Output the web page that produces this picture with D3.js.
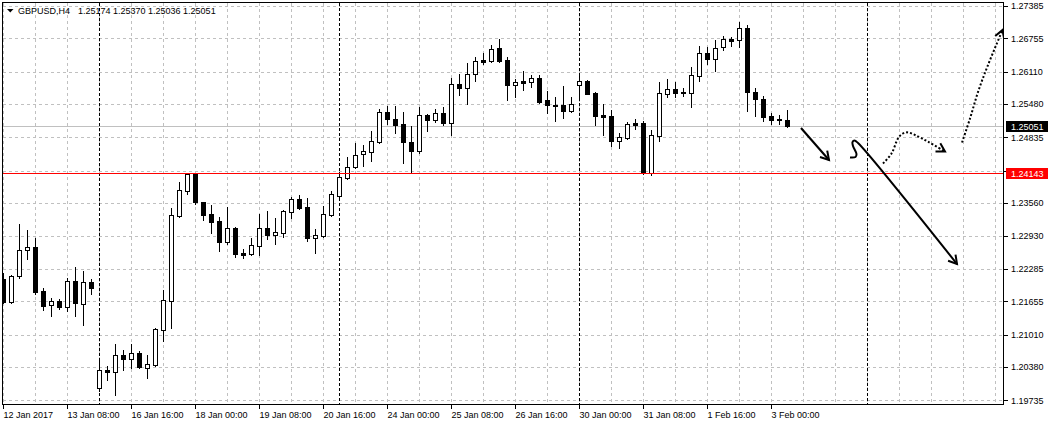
<!DOCTYPE html>
<html lang="en">
<head>
<meta charset="utf-8">
<title>GBPUSD,H4</title>
<style>
  html, body { margin: 0; padding: 0; background: #fff; }
  svg { display: block; }
  svg text { font-family: "Liberation Sans", Arial, sans-serif; font-size: 9px; fill: #000; }
</style>
</head>
<body>
<svg width="1049" height="425"></svg>
<script src="https://cdnjs.cloudflare.com/ajax/libs/d3/7.8.5/d3.min.js"></script>
<script>
// H4 bars, 12 Jan 2017 00:00 .. 3 Feb 2017 16:00
var symbol = "GBPUSD,H4";

var opens = [1.22088,1.21642,1.22147,1.22651,1.22709,1.21856,1.21584,1.21662,1.21545,1.22050,
  1.21603,1.22030,1.19974,1.20323,1.20284,1.20614,1.20536,1.20653,1.20362,1.20420,
  1.21099,1.21662,1.23311,1.23796,1.24125,1.23582,1.23349,1.23214,1.22806,1.23078,
  1.22593,1.22573,1.22729,1.23078,1.22942,1.22981,1.23388,1.23640,1.23485,1.22884,
  1.22923,1.23330,1.23699,1.24048,1.24261,1.24513,1.24552,1.24746,1.25328,1.25192,
  1.25095,1.24746,1.24572,1.25270,1.25173,1.25309,1.25115,1.25871,1.25794,1.26065,
  1.26337,1.26318,1.26570,1.26337,1.25852,1.25930,1.25910,1.25988,1.25561,1.25464,
  1.25464,1.25348,1.25852,1.25930,1.25697,1.25270,1.25251,1.24766,1.24824,1.25115,
  1.25115,1.24145,1.24863,1.25677,1.25774,1.25716,1.25697,1.26027,1.26473,1.26356,
  1.26589,1.26744,1.26725,1.26958,1.25716,1.25580,1.25251,1.25192,1.25174];

var highs = [1.22205,1.22166,1.23155,1.23039,1.22884,1.21914,1.21720,1.21700,1.22108,1.22321,
  1.22244,1.22088,1.20517,1.20401,1.20827,1.20711,1.20827,1.20692,1.20614,1.21138,
  1.21875,1.23466,1.23970,1.24145,1.24145,1.23582,1.23524,1.23291,1.23485,1.23097,
  1.22670,1.22884,1.23349,1.23408,1.23272,1.23427,1.23679,1.23718,1.23660,1.23058,
  1.23505,1.23796,1.24164,1.24455,1.24727,1.24688,1.24960,1.25386,1.25445,1.25445,
  1.25328,1.25057,1.25425,1.25289,1.25386,1.25425,1.25988,1.26065,1.26279,1.26395,
  1.26473,1.26628,1.26744,1.26395,1.25968,1.26124,1.26046,1.26046,1.25736,1.25619,
  1.25833,1.25619,1.26065,1.25949,1.25716,1.25483,1.25367,1.24921,1.25134,1.25192,
  1.25154,1.24979,1.25910,1.25968,1.25910,1.25794,1.26201,1.26609,1.26589,1.26725,
  1.26803,1.26783,1.27074,1.27016,1.25794,1.25639,1.25309,1.25270,1.25370];

var lows = [1.21623,1.21623,1.22108,1.22476,1.21797,1.21487,1.21371,1.21506,1.21468,1.21371,
  1.21196,1.21797,1.19916,1.20129,1.19838,1.20323,1.20362,1.20362,1.20168,1.20401,
  1.20886,1.21138,1.23291,1.23737,1.23543,1.23233,1.22981,1.22632,1.22767,1.22515,
  1.22496,1.22554,1.22554,1.22864,1.22767,1.22903,1.23272,1.23446,1.22826,1.22593,
  1.22903,1.23311,1.23679,1.24028,1.24242,1.24281,1.24378,1.24727,1.25095,1.24921,
  1.24339,1.24164,1.24533,1.24960,1.25134,1.25076,1.24882,1.25658,1.25483,1.25930,
  1.26259,1.26298,1.26298,1.25561,1.25619,1.25755,1.25813,1.25503,1.25309,1.25154,
  1.25212,1.25328,1.25561,1.25677,1.25076,1.24882,1.24669,1.24630,1.24804,1.24998,
  1.24125,1.24106,1.24766,1.25619,1.25619,1.25639,1.25425,1.25930,1.26259,1.26124,
  1.26531,1.26609,1.26589,1.25348,1.25251,1.25154,1.25095,1.25095,1.25036];

var closes = [1.21642,1.22147,1.22651,1.22709,1.21836,1.21565,1.21662,1.21545,1.22050,1.21623,
  1.22030,1.21914,1.20323,1.20284,1.20614,1.20536,1.20653,1.20381,1.20439,1.21118,
  1.21681,1.23330,1.23815,1.24125,1.23582,1.23330,1.23194,1.22806,1.23078,1.22573,
  1.22554,1.22748,1.23078,1.22942,1.23000,1.23408,1.23640,1.23466,1.22884,1.22942,
  1.23349,1.23737,1.24067,1.24261,1.24494,1.24572,1.24766,1.25328,1.25192,1.25076,
  1.24746,1.24572,1.25270,1.25173,1.25309,1.25115,1.25871,1.25794,1.26065,1.26318,
  1.26298,1.26550,1.26318,1.25852,1.25910,1.25891,1.25988,1.25522,1.25464,1.25445,
  1.25348,1.25483,1.25930,1.25677,1.25251,1.25231,1.24766,1.24843,1.25095,1.25076,
  1.24145,1.24882,1.25697,1.25774,1.25697,1.25716,1.26046,1.26473,1.26356,1.26570,
  1.26744,1.26706,1.26958,1.25716,1.25580,1.25231,1.25173,1.25165,1.25051];

// one time label every 8 bars, starting at bar 0
var timeLabels = ["12 Jan 2017","13 Jan 08:00","16 Jan 16:00","18 Jan 00:00","19 Jan 08:00",
  "20 Jan 16:00","24 Jan 00:00","25 Jan 08:00","26 Jan 16:00","30 Jan 00:00",
  "31 Jan 08:00","1 Feb 16:00","3 Feb 00:00"];

var priceTicks = [1.27385,1.26755,1.26110,1.25480,1.24835,1.24190,1.23560,
  1.22930,1.22285,1.21655,1.21010,1.20380,1.19735];

var bidPrice = 1.25051;
var levelPrice = 1.24143;
var separators = [12, 42, 72, 108];   // bar index of the black dashed lines

// hand drawn objects, [bar index, price]
var arrowA = [[99.75,1.25018],[103.25,1.24397]];
var arrowB = [[105.875,1.24446],[106.5625,1.24455],[106.6875,1.24513],[106.25,1.24669],
  [106.1875,1.24746],[106.4375,1.24775],[106.875,1.24727],[119.25,1.22379]];
var dottedA = [[110,1.24329],[111.0625,1.24523],[111.875,1.24814],[112.375,1.24901],
  [113,1.24934],[114,1.24882],[115.625,1.24752],[117.75,1.24562]];
var dottedB = [[119.875,1.24737],[120.875,1.25202],[121.875,1.25716],[123.125,1.26240],
  [124.9375,1.26919]];

var svg = d3.select("svg");
var plotL = 3, plotR = 1003, plotT = 3, plotB = 404;

var x = d3.scaleLinear().domain([0, 125]).range([3, 1003]);
var y = d3.scaleLinear().domain([1.19735, 1.27385]).range([400.3, 6]);

function px(v) { return Math.round(v) + 0.5; }

svg.append("defs").append("clipPath").attr("id", "plot")
  .append("rect").attr("x", plotL).attr("y", plotT)
  .attr("width", plotR - plotL).attr("height", plotB - plotT);

var plot = svg.append("g").attr("clip-path", "url(#plot)");

// grid
plot.append("g").selectAll("line")
  .data(d3.range(0, 126, 4))
  .enter().append("line")
    .attr("x1", function(d) { return px(x(d)); })
    .attr("x2", function(d) { return px(x(d)); })
    .attr("y1", plotT).attr("y2", plotB)
    .attr("stroke", "#c0c0c0").attr("stroke-dasharray", "3,3")
    .attr("shape-rendering", "crispEdges");

plot.append("g").selectAll("line")
  .data(priceTicks)
  .enter().append("line")
    .attr("x1", plotL).attr("x2", plotR)
    .attr("y1", function(d) { return px(y(d)); })
    .attr("y2", function(d) { return px(y(d)); })
    .attr("stroke", "#c0c0c0").attr("stroke-dasharray", "3,3")
    .attr("shape-rendering", "crispEdges");

// period separators
plot.append("g").selectAll("line")
  .data(separators)
  .enter().append("line")
    .attr("x1", function(d) { return px(x(d)); })
    .attr("x2", function(d) { return px(x(d)); })
    .attr("y1", plotT).attr("y2", plotB)
    .attr("stroke", "#000").attr("stroke-dasharray", "3,2")
    .attr("shape-rendering", "crispEdges");

// bid line
plot.append("line")
  .attr("x1", plotL).attr("x2", plotR)
  .attr("y1", px(y(bidPrice))).attr("y2", px(y(bidPrice)))
  .attr("stroke", "#c0c0c0").attr("shape-rendering", "crispEdges");

// candles
var bars = d3.range(opens.length).map(function(i) {
  return { i: i, o: opens[i], h: highs[i], l: lows[i], c: closes[i] };
});

var candle = plot.append("g").selectAll("g")
  .data(bars)
  .enter().append("g")
    .attr("shape-rendering", "crispEdges");

candle.append("line")
  .attr("x1", function(d) { return px(x(d.i)); })
  .attr("x2", function(d) { return px(x(d.i)); })
  .attr("y1", function(d) { return Math.round(y(d.h)); })
  .attr("y2", function(d) { return Math.round(y(d.l)) + 1; })
  .attr("stroke", "#000");

candle.append("rect")
  .attr("x", function(d) { return px(x(d.i)) - 2; })
  .attr("width", 4)
  .attr("y", function(d) { return Math.round(y(Math.max(d.o, d.c))) + 0.5; })
  .attr("height", function(d) {
    return Math.max(1, Math.round(y(Math.min(d.o, d.c))) - Math.round(y(Math.max(d.o, d.c))));
  })
  .attr("fill", function(d) { return d.c > d.o ? "#fff" : "#000"; })
  .attr("stroke", "#000");

// level line
plot.append("line")
  .attr("x1", plotL).attr("x2", plotR)
  .attr("y1", px(y(levelPrice))).attr("y2", px(y(levelPrice)))
  .attr("stroke", "#f00").attr("shape-rendering", "crispEdges");

// drawings
var line = d3.line()
  .x(function(d) { return x(d[0]); })
  .y(function(d) { return y(d[1]); })
  .curve(d3.curveCatmullRom);

function head(pts, from) {
  var p0 = [x(pts[from][0]), y(pts[from][1])];
  var p1 = [x(pts[pts.length - 1][0]), y(pts[pts.length - 1][1])];
  var a = Math.atan2(p1[1] - p0[1], p1[0] - p0[0]) + Math.PI, len = 9.5, s = 0.53;
  return "M" + (p1[0] + len * Math.cos(a - s)) + "," + (p1[1] + len * Math.sin(a - s)) +
    "L" + p1[0] + "," + p1[1] +
    "L" + (p1[0] + len * Math.cos(a + s)) + "," + (p1[1] + len * Math.sin(a + s));
}

[[arrowA, false, 0], [arrowB, false, 6], [dottedA, true, 6], [dottedB, true, 0]].forEach(function(a) {
  plot.append("path")
    .attr("d", line(a[0]))
    .attr("fill", "none").attr("stroke", "#000").attr("stroke-width", 2)
    .attr("stroke-dasharray", a[1] ? "2,2" : null);
  plot.append("path")
    .attr("d", head(a[0], a[2]))
    .attr("fill", "none").attr("stroke", "#000").attr("stroke-width", 2);
});

// frame
svg.append("rect")
  .attr("x", plotL - 0.5).attr("y", plotT - 0.5)
  .attr("width", plotR - plotL + 1).attr("height", plotB - plotT + 1)
  .attr("fill", "none").attr("stroke", "#000").attr("shape-rendering", "crispEdges");

// price scale
var ly = y(levelPrice), by = y(bidPrice);
var yAxis = svg.append("g");
priceTicks.forEach(function(p) {
  var ty = px(y(p));
  yAxis.append("line")
    .attr("x1", plotR + 1).attr("x2", plotR + 5)
    .attr("y1", ty).attr("y2", ty)
    .attr("stroke", "#000").attr("shape-rendering", "crispEdges");
  if (Math.abs(y(p) - ly) > 7 && Math.abs(y(p) - by) > 7) {
    yAxis.append("text")
      .attr("x", plotR + 8).attr("y", y(p) + 3.3)
      .text(p.toFixed(5));
  }
});

[[bidPrice, "#000"], [levelPrice, "#f00"]].forEach(function(m) {
  var my = Math.round(y(m[0]));
  yAxis.append("rect")
    .attr("x", plotR + 3).attr("y", my - 5)
    .attr("width", 42).attr("height", 11)
    .attr("fill", m[1]);
  yAxis.append("text")
    .attr("x", plotR + 8).attr("y", my + 3.8)
    .style("fill", "#fff")
    .text(m[0].toFixed(5));
});

// time scale
var xAxis = svg.append("g");
timeLabels.forEach(function(t, k) {
  var tx = px(x(k * 8));
  xAxis.append("line")
    .attr("x1", tx).attr("x2", tx)
    .attr("y1", plotB).attr("y2", plotB + 5)
    .attr("stroke", "#000").attr("shape-rendering", "crispEdges");
  xAxis.append("text")
    .attr("x", tx).attr("y", 417.5)
    .text(t);
});

// title
var last = bars[bars.length - 1];
svg.append("path")
  .attr("d", "M7,9L13.5,9L10.25,12.5Z")
  .attr("fill", "#000");
svg.append("text")
  .attr("x", 18).attr("y", 13.5)
  .text(symbol);
svg.append("text")
  .attr("x", 78).attr("y", 13.5)
  .text([last.o, last.h, last.l, last.c].map(function(v) { return v.toFixed(5); }).join(" "));
</script>
</body>
</html>
